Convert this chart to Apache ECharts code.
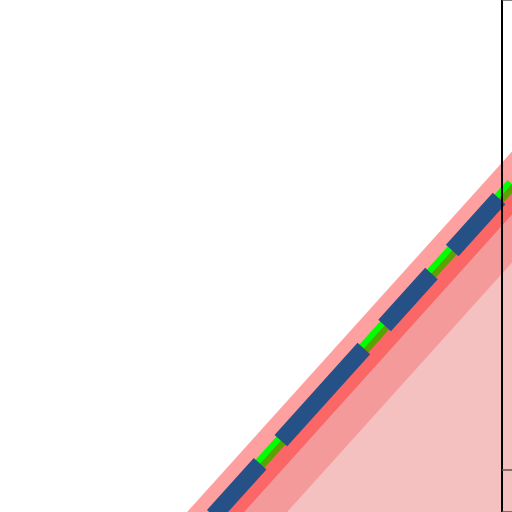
<!DOCTYPE html>
<html>
<head>
<meta charset="utf-8">
<style>
html,body{margin:0;padding:0;background:#fff;}
#chart{width:512px;height:512px;}
</style>
<script src="https://cdn.jsdelivr.net/npm/echarts/dist/echarts.min.js"></script>
</head>
<body>
<div id="chart"></div>
<script>
// x positions (data units) where boundaries were read
const xs = [100, 512];
// boundary lines (data units, y up)
const upperEdge  = [-96.7, 360.6];   // white / light-pink boundary
const centerLine = [-129.4, 327.9];  // main (blue dashed + green) line
const redEdge    = [-160.0, 297.4];  // red band lower boundary
const mediumEdge = [-207.7, 249.6];  // medium / lightest boundary
// axis tick value (on the right-hand axis)
const tickValues = [488];

const pairs = arr => xs.map((x, i) => [x, arr[i]]);

const chart = echarts.init(document.getElementById('chart'), null, {renderer: 'canvas'});
const noLine = {width: 0, opacity: 0};
const base = {type: 'line', xAxisIndex: 0, yAxisIndex: 0, symbol: 'none', showSymbol: false, silent: true};
const fill = (arr, color, z) => Object.assign({}, base, {data: pairs(arr), lineStyle: noLine, z: z,
  areaStyle: {color: color, opacity: 1, origin: 'start'}});

chart.setOption({
  animation: false,
  grid: [
    {left: 0, right: 0, top: 0, bottom: 0},
    {left: 502, right: 0, top: -20, bottom: 0}
  ],
  xAxis: [
    {type: 'value', gridIndex: 0, min: 0, max: 512, show: false},
    {type: 'value', gridIndex: 1, min: 0, max: 1, show: false}
  ],
  yAxis: [
    {type: 'value', gridIndex: 0, min: 0, max: 512, show: false},
    {type: 'value', gridIndex: 1, min: 0, max: 532, interval: tickValues[0], inverse: true, z: 20,
     position: 'left',
     axisLine: {show: true, lineStyle: {color: '#000', width: 2}},
     axisTick: {show: true, inside: true, length: 14, lineStyle: {color: '#555', width: 1.5}},
     axisLabel: {show: false}, splitLine: {show: false}}
  ],
  series: [
    fill(upperEdge, '#ffa0a0', 1),
    Object.assign({}, base, {data: pairs(centerLine), z: 2,
      lineStyle: {color: '#00ff00', width: 12}}),
    fill(centerLine, 'rgba(245,0,0,0.36)', 3),
    fill(redEdge, '#f59a9a', 4),
    fill(mediumEdge, '#f5c0c0', 5),
    Object.assign({}, base, {data: pairs(centerLine), z: 6,
      lineStyle: {color: '#255187', width: 17, type: [124, 31, 70, 31, 70, 31], dashOffset: 86.8, cap: 'butt'}})
  ]
});
</script>
</body>
</html>
